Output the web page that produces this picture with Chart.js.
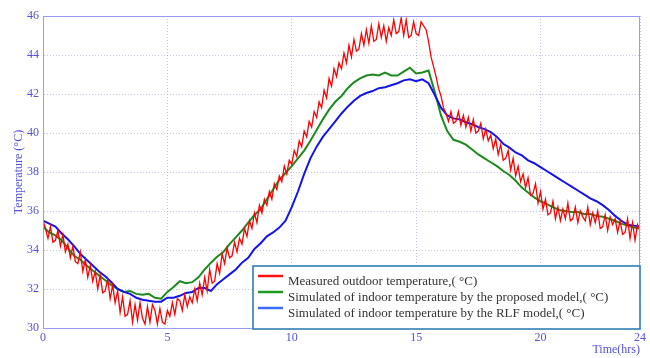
<!DOCTYPE html>
<html>
<head>
<meta charset="utf-8">
<script src="https://cdn.jsdelivr.net/npm/chart.js@4.4.1/dist/chart.umd.min.js"></script>
<style>
  html, body { margin: 0; padding: 0; background: #fff; }
  #wrap { width: 650px; height: 358px; position: relative; }
</style>
</head>
<body>
<div id="wrap"><canvas id="myChart" width="650" height="358"></canvas></div>
<script>
// x tick labels (hours)
const xTicks = [0, 5, 10, 15, 20, 24];

// Measured outdoor temperature, one value every 0.1 h (0 .. 24)
const redStep = 0.1;
const measured = [
  35.5, 35.1, 34.6, 35.2, 34.4, 34.5, 35.0, 34.2, 34.8, 33.9,
  34.3, 33.6, 34.2, 33.4, 33.3, 33.9, 32.9, 33.5, 32.6, 33.2,
  32.4, 32.9, 32.0, 32.7, 31.8, 31.9, 32.5, 31.5, 32.2, 31.3,
  31.9, 30.8, 31.6, 30.6, 30.7, 31.4, 30.3, 31.2, 30.4, 31.3,
  30.5, 30.2, 31.1, 30.3, 31.2, 30.9, 30.2, 31.0, 30.3, 30.2,
  30.9, 30.6, 31.3, 30.7, 31.5, 31.4, 30.9, 31.7, 31.1, 31.6,
  31.3, 32.0, 31.4, 32.3, 31.7, 32.6, 31.9, 33.0, 32.3, 32.4,
  33.3, 32.8, 33.8, 33.3, 34.1, 33.6, 33.7, 34.4, 33.9, 34.6,
  34.3, 35.1, 34.7, 35.5, 35.1, 35.9, 35.4, 36.3, 35.9, 36.6,
  36.3, 37.0, 36.6, 37.4, 37.1, 37.8, 37.5, 38.3, 37.9, 38.6,
  38.4, 39.1, 38.8, 39.6, 39.3, 40.1, 39.8, 40.6, 40.3, 41.1,
  40.8, 41.6, 41.3, 42.2, 41.8, 42.8, 42.4, 43.3, 42.9, 43.6,
  43.3, 44.1, 43.6, 44.5, 43.9, 44.8, 44.2, 44.3, 45.1, 44.5,
  45.3, 44.6, 45.5, 44.7, 44.8, 45.6, 44.9, 45.5, 44.7, 45.4,
  45.0, 45.8, 45.1, 45.2, 45.9, 45.0, 45.8, 44.9, 45.0, 45.7,
  45.1, 45.0, 45.7, 45.5, 45.3, 44.7, 43.9, 43.4, 42.9, 42.3,
  41.9, 41.3, 41.0, 40.6, 41.1, 40.5, 40.6, 41.1, 40.4, 40.9,
  40.3, 40.8, 40.1, 40.7, 40.0, 40.1, 40.5, 39.7, 40.2, 39.6,
  39.9, 39.2, 39.7, 38.9, 39.4, 38.6, 38.7, 39.1, 38.1, 38.7,
  37.8, 38.3, 37.5, 37.9, 37.2, 37.7, 36.8, 36.9, 37.4, 36.4,
  37.0, 36.1, 36.6, 35.8, 35.9, 36.5, 35.6, 36.2, 35.5, 36.1,
  35.6, 36.4, 35.5, 35.6, 36.2, 35.4, 36.0, 35.7, 35.5, 36.2,
  35.3, 35.9, 35.4, 36.0, 35.1, 35.2, 35.8, 35.0, 35.7, 35.3,
  35.6, 34.9, 35.5, 34.8, 34.9, 35.6, 34.6, 35.4, 34.5, 35.3,
  35.0
];

// Simulated indoor temperature, one value every 0.25 h (0 .. 24)
const modelStep = 0.25;
const proposed = [
  35.2, 34.9, 34.75, 34.5, 34.1, 33.7, 33.5, 33.2,
  32.95, 32.7, 32.45, 32.2, 32.0, 31.85, 31.9, 31.75,
  31.7, 31.75, 31.55, 31.5, 31.85, 32.1, 32.4, 32.3,
  32.35, 32.6, 33.0, 33.35, 33.65, 33.9, 34.3, 34.65,
  35.0, 35.4, 35.8, 36.1, 36.6, 37.1, 37.6, 37.95,
  38.3, 38.7, 39.1, 39.6, 40.15, 40.7, 41.2, 41.6,
  41.9, 42.3, 42.6, 42.8, 42.95, 43.0, 42.95, 43.1,
  42.95, 42.95, 43.15, 43.35, 43.05, 43.1, 43.2, 42.1,
  40.9, 40.1, 39.65, 39.55, 39.4, 39.15, 38.9, 38.7,
  38.5, 38.3, 38.05, 37.85, 37.55, 37.2, 36.95, 36.7,
  36.5, 36.35, 36.2, 36.05, 36.0, 35.95, 35.95, 35.85,
  35.85, 35.75, 35.7, 35.6, 35.5, 35.35, 35.25, 35.15,
  35.1
];
const rlf = [
  35.5, 35.35, 35.2, 34.85, 34.55, 34.2, 33.8, 33.5,
  33.2, 32.9, 32.65, 32.35, 32.0, 31.85, 31.75, 31.55,
  31.45, 31.4, 31.35, 31.35, 31.55, 31.55, 31.65, 31.8,
  31.85, 32.05, 32.05, 31.9, 32.25, 32.5, 32.75, 33.0,
  33.35, 33.6, 34.05, 34.35, 34.7, 34.9, 35.15, 35.5,
  36.2, 37.0, 37.9, 38.7, 39.3, 39.8, 40.2, 40.6,
  41.0, 41.35, 41.65, 41.9, 42.05, 42.15, 42.3, 42.35,
  42.45, 42.55, 42.7, 42.75, 42.65, 42.75, 42.55, 41.95,
  41.3, 40.9, 40.75, 40.7, 40.55, 40.45, 40.3, 40.2,
  40.05, 39.8, 39.45, 39.25, 39.0, 38.85, 38.6, 38.45,
  38.25, 38.05, 37.85, 37.65, 37.45, 37.25, 37.05, 36.85,
  36.65, 36.5, 36.3, 36.05, 35.75, 35.5, 35.3, 35.25,
  35.2
];

const seriesLabels = [
  'Measured outdoor temperature,( \u00B0C)',
  'Simulated of indoor temperature by the proposed model,( \u00B0C)',
  'Simulated of indoor temperature by the RLF model,( \u00B0C)'
];

const toPoints = (vals, step) => vals.map((v, i) => ({ x: +(i * step).toFixed(2), y: v }));

const axisBlue = '#5252dc';
const frameBlue = '#9a9af2';
const serif = "'Liberation Serif', 'Times New Roman', serif";

// frame around the plot + legend box inside the plot
const framePlugin = {
  id: 'framePlugin',
  afterDraw(chart) {
    const { ctx, chartArea: a } = chart;
    ctx.save();
    ctx.strokeStyle = frameBlue;
    ctx.lineWidth = 1;
    ctx.strokeRect(a.left + 0.5, a.top + 0.5, a.right - a.left - 1, a.bottom - a.top);

    // legend
    const w = 387, h = 63;
    const bx = a.right - w, by = a.bottom - h + 1;
    ctx.fillStyle = '#fff';
    ctx.fillRect(bx, by, w, h);
    ctx.strokeStyle = '#2f7fb5';
    ctx.lineWidth = 1.6;
    ctx.strokeRect(bx, by, w, h);

    const lineColors = ['#ff1010', '#1e9a1e', '#3d6dff'];
    ctx.font = '13px ' + serif;
    ctx.textBaseline = 'middle';
    ctx.fillStyle = '#333';
    seriesLabels.forEach((lab, i) => {
      const ly = by + 12 + i * 16;
      ctx.strokeStyle = lineColors[i];
      ctx.lineWidth = 2.5;
      ctx.beginPath();
      ctx.moveTo(bx + 5, ly - 2);
      ctx.lineTo(bx + 30, ly - 2);
      ctx.stroke();
      ctx.fillText(lab, bx + 35, ly + 4);
    });
    ctx.restore();
  }
};

const ctx = document.getElementById('myChart').getContext('2d');
const myChart = new Chart(ctx, {
  type: 'line',
  data: {
    datasets: [
      {
        label: seriesLabels[0],
        data: toPoints(measured, redStep),
        borderColor: '#ff0000',
        borderWidth: 1.3,
        pointRadius: 0,
        order: 1
      },
      {
        label: seriesLabels[1],
        data: toPoints(proposed, modelStep),
        borderColor: '#1d8a1d',
        borderWidth: 2,
        pointRadius: 0,
        order: 3
      },
      {
        label: seriesLabels[2],
        data: toPoints(rlf, modelStep),
        borderColor: '#1414e6',
        borderWidth: 2,
        pointRadius: 0,
        order: 2
      }
    ]
  },
  options: {
    responsive: false,
    animation: false,
    layout: { padding: { top: 16, right: 10, left: 0, bottom: 0 } },
    plugins: {
      legend: { display: false },
      tooltip: { enabled: false }
    },
    scales: {
      x: {
        type: 'linear',
        min: 0,
        max: 24,
        afterBuildTicks: (scale) => { scale.ticks = xTicks.map(v => ({ value: v })); },
        afterFit: (scale) => { scale.height = 30; },
        ticks: {
          color: axisBlue,
          padding: 3,
          font: { family: serif, size: 12 },
          maxRotation: 0,
          autoSkip: false
        },
        grid: { color: 'rgba(150,150,235,0.55)', drawTicks: false },
        border: { color: frameBlue, dash: [1, 2] },
        title: {
          display: true,
          text: 'Time(hrs)',
          align: 'end',
          color: axisBlue,
          font: { family: serif, size: 12 },
          padding: { top: 0, bottom: 1 }
        }
      },
      y: {
        min: 30,
        max: 46,
        afterFit: (scale) => { scale.width = 43; },
        ticks: {
          stepSize: 2,
          color: axisBlue,
          padding: 4,
          font: { family: serif, size: 12 }
        },
        grid: { color: 'rgba(150,150,235,0.55)', drawTicks: false },
        border: { color: frameBlue, dash: [1, 2] },
        title: {
          display: true,
          text: 'Temperature (\u00B0C)',
          color: axisBlue,
          font: { family: serif, size: 12 },
          padding: { top: 12, bottom: 0 }
        }
      }
    }
  },
  plugins: [framePlugin]
});
</script>
</body>
</html>
